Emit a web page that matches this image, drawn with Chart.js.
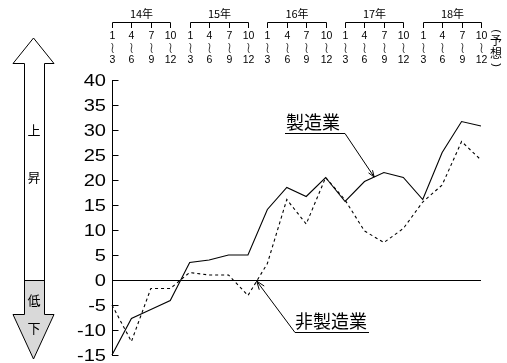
<!DOCTYPE html>
<html>
<head>
<meta charset="utf-8">
<script src="https://cdn.jsdelivr.net/npm/chart.js@4.4.0/dist/chart.umd.min.js"></script>
<style>
  html, body { margin: 0; padding: 0; background: #fff; }
  #wrap { width: 507px; height: 363px; }
</style>
</head>
<body>
<div id="wrap"><canvas id="c" width="507" height="363"></canvas></div>
<script>
// Quarterly diffusion index, 2014 Q1 to 2018 Q4 (last quarter is a forecast)
const years = ['14年', '15年', '16年', '17年', '18年'];
const quarterStarts = ['1', '4', '7', '10'];
const quarterEnds = ['3', '6', '9', '12'];

const manufacturing = [-15, -7.7, -5.9, -4.1, 3.5, 4.0, 5.0, 5.0, 14.1, 18.5, 16.7, 20.5, 15.7, 19.7, 21.5, 20.5, 16.1, 25.5, 31.7, 30.8];
const nonManufacturing = [-5, -12.3, -1.7, -1.7, 1.5, 1.0, 1.0, -3.1, 3.3, 16.1, 11.2, 20.5, 16.0, 9.8, 7.5, 10.3, 15.6, 19.0, 27.7, 24.0];

const seriesNames = ['製造業', '非製造業'];
const arrowWords = { up: ['上', '昇'], down: ['低', '下'] };
const forecastNote = ['予', '想'];

const categories = [];
years.forEach(y => quarterStarts.forEach((q, i) => categories.push(y + q + '-' + quarterEnds[i])));

const LATIN = '"Liberation Sans", Arial, sans-serif';
const CJK = '"Noto Sans CJK JP", "Noto Sans", sans-serif';

// Draws value labels, the top period axis, the inner y ticks, the rise/fall arrow and the series callouts
const decor = {
  id: 'decor',
  afterDraw(chart) {
    const ctx = chart.ctx;
    const xs = chart.scales.x, ys = chart.scales.y;
    const area = chart.chartArea;
    ctx.save();
    ctx.strokeStyle = '#000';
    ctx.fillStyle = '#000';
    ctx.lineWidth = 1;

    // value labels (slightly wide digits) and inner tick marks
    const axisX = Math.round(area.left) + 0.5;
    ctx.font = '17px ' + LATIN;
    ctx.textAlign = 'right';
    ctx.textBaseline = 'middle';
    ys.ticks.forEach(t => {
      const y = Math.round(ys.getPixelForValue(t.value)) + 0.5;
      ctx.beginPath();
      ctx.moveTo(axisX, y);
      ctx.lineTo(axisX + 6, y);
      ctx.stroke();
      ctx.save();
      ctx.translate(106, y + 0.5);
      ctx.scale(1.18, 1);
      ctx.fillText(String(t.value), 0, 0);
      ctx.restore();
    });

    // top period axis: year brackets and quarter ranges
    ctx.textAlign = 'center';
    const wave = (x, y) => {
      ctx.beginPath();
      ctx.moveTo(x - 1, y - 5);
      ctx.bezierCurveTo(x + 2.5, y - 2, x - 2.5, y + 2, x + 1, y + 5);
      ctx.stroke();
    };
    years.forEach((yr, yi) => {
      const px = [0, 1, 2, 3].map(q => Math.round(xs.getPixelForValue(yi * 4 + q)) + 0.5);
      ctx.beginPath();
      ctx.moveTo(px[0], 22.5);
      ctx.lineTo(px[3], 22.5);
      px.forEach(x => { ctx.moveTo(x, 22.5); ctx.lineTo(x, 28); });
      ctx.stroke();
      ctx.font = '11px ' + CJK;
      ctx.fillText(yr, (px[0] + px[3]) / 2, 14);
      ctx.font = '10.5px ' + LATIN;
      px.forEach((x, q) => {
        ctx.fillText(quarterStarts[q], x, 36);
        ctx.lineWidth = 0.8;
        wave(x, 48);
        ctx.lineWidth = 1;
        ctx.fillText(quarterEnds[q], x, 60);
      });
    });

    // vertical "(予想)" note after the last quarter
    const noteX = xs.getPixelForValue(categories.length - 1) + 15;
    ctx.font = '12px ' + CJK;
    ctx.fillText(forecastNote[0], noteX, 40);
    ctx.fillText(forecastNote[1], noteX, 53);
    ctx.font = '11px ' + LATIN;
    [['(', 31], [')', 65]].forEach(([ch, y]) => {
      ctx.save();
      ctx.translate(noteX, y);
      ctx.rotate(Math.PI / 2);
      ctx.fillText(ch, 0, 0);
      ctx.restore();
    });

    // rise / fall double arrow at the left
    const zeroY = Math.round(ys.getPixelForValue(0)) + 0.5;
    const cx = 33.5, sL = 24.5, sR = 44.5, hL = 13, hR = 54;
    const topTip = 38, topBase = 63.5, botBase = 314.5, botTip = 359;
    const outline = () => {
      ctx.beginPath();
      ctx.moveTo(cx, topTip);
      ctx.lineTo(hR, topBase);
      ctx.lineTo(sR, topBase);
      ctx.lineTo(sR, botBase);
      ctx.lineTo(hR, botBase);
      ctx.lineTo(cx, botTip);
      ctx.lineTo(hL, botBase);
      ctx.lineTo(sL, botBase);
      ctx.lineTo(sL, topBase);
      ctx.lineTo(hL, topBase);
      ctx.closePath();
    };
    ctx.fillStyle = '#fff';
    outline(); ctx.fill();
    ctx.save();
    outline(); ctx.clip();
    ctx.fillStyle = '#d9d9d9';
    ctx.fillRect(0, zeroY, 70, 100);
    ctx.restore();
    ctx.beginPath();
    ctx.moveTo(sL, zeroY); ctx.lineTo(sR, zeroY);
    ctx.stroke();
    outline(); ctx.stroke();
    ctx.fillStyle = '#000';
    ctx.font = '13px ' + CJK;
    ctx.fillText(arrowWords.up[0], 34, 130);
    ctx.fillText(arrowWords.up[1], 34, 177);
    ctx.fillText(arrowWords.down[0], 34, 300);
    ctx.fillText(arrowWords.down[1], 34, 328);

    // callouts pointing at the lines
    const along = (data, i, f) => ({
      x: xs.getPixelForValue(i) + f * (xs.getPixelForValue(i + 1) - xs.getPixelForValue(i)),
      y: ys.getPixelForValue(data[i] + f * (data[i + 1] - data[i]))
    });
    const head = (from, tip, len) => {
      const a = Math.atan2(tip.y - from.y, tip.x - from.x);
      [0.35, -0.35].forEach(d => {
        ctx.beginPath();
        ctx.moveTo(tip.x, tip.y);
        ctx.lineTo(tip.x - len * Math.cos(a + d), tip.y - len * Math.sin(a + d));
        ctx.stroke();
      });
    };
    ctx.font = '18px ' + CJK;
    ctx.textAlign = 'left';

    const tipM = along(manufacturing, 13, 0.5);
    ctx.fillText(seriesNames[0], 286, 122);
    ctx.beginPath();
    ctx.moveTo(285, 133.5); ctx.lineTo(345, 133.5); ctx.lineTo(tipM.x, tipM.y);
    ctx.stroke();
    head({ x: 345, y: 133.5 }, tipM, 7);

    const tipN = along(nonManufacturing, 7, 0.45);
    ctx.fillText(seriesNames[1], 295, 321);
    ctx.beginPath();
    ctx.moveTo(369, 332.5); ctx.lineTo(295, 332.5); ctx.lineTo(tipN.x, tipN.y);
    ctx.stroke();
    head({ x: 295, y: 332.5 }, tipN, 9);

    ctx.restore();
  }
};

new Chart(document.getElementById('c'), {
  type: 'line',
  data: {
    labels: categories,
    datasets: [
      { label: seriesNames[0], data: manufacturing, borderColor: '#000', borderWidth: 1.1, pointRadius: 0, tension: 0, clip: false },
      { label: seriesNames[1], data: nonManufacturing, borderColor: '#000', borderWidth: 1.1, borderDash: [3, 3], pointRadius: 0, tension: 0, clip: false }
    ]
  },
  options: {
    responsive: false,
    animation: false,
    devicePixelRatio: 1,
    layout: { padding: { left: 0, right: 26, top: 80, bottom: 8 } },
    plugins: { legend: { display: false }, tooltip: { enabled: false } },
    scales: {
      x: { display: false, offset: false },
      y: {
        min: -15, max: 40,
        afterFit(scale) {
          scale.width = 112;
          scale.paddingTop = 0;
          scale.paddingBottom = 0;
        },
        ticks: { stepSize: 5, color: 'rgba(0,0,0,0)', padding: 6, font: { family: LATIN, size: 17 } },
        grid: {
          drawTicks: false,
          color: c => (c.tick && c.tick.value === 0 ? '#000' : 'rgba(0,0,0,0)'),
          lineWidth: 1
        },
        border: { display: true, color: '#000', width: 1 }
      }
    }
  },
  plugins: [decor]
});
</script>
</body>
</html>
